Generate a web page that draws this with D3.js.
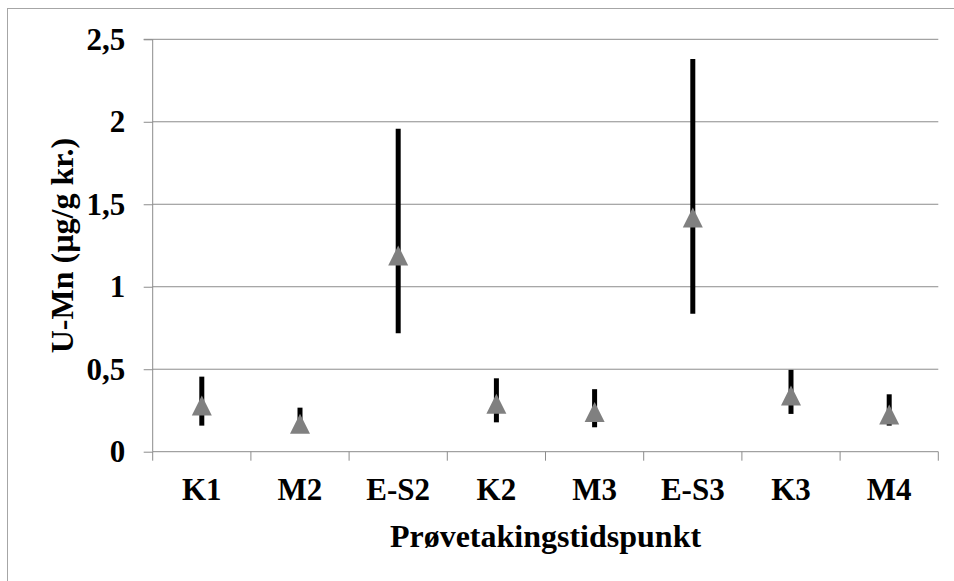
<!DOCTYPE html>
<html>
<head>
<meta charset="utf-8">
<script src="https://cdn.jsdelivr.net/npm/d3@7"></script>
<style>
  html, body { margin: 0; padding: 0; background: #fff; }
  svg { display: block; }
  text { font-family: "Liberation Serif", "Times New Roman", serif; font-weight: bold; fill: #000; }
</style>
</head>
<body>
<svg id="chart" width="954" height="581"></svg>
<script>
const categories = ["K1", "M2", "E-S2", "K2", "M3", "E-S3", "K3", "M4"];
const meanValues = [0.28, 0.17, 1.19, 0.29, 0.24, 1.42, 0.34, 0.225];
const highValues = [0.455, 0.267, 1.958, 0.445, 0.379, 2.381, 0.496, 0.348];
const lowValues  = [0.158, 0.13, 0.718, 0.178, 0.148, 0.837, 0.229, 0.158];
const yTicks = [0, 0.5, 1, 1.5, 2, 2.5];
const yTitle = "U-Mn (µg/g kr.)";
const xTitle = "Prøvetakingstidspunkt";

const data = categories.map((c, i) => ({ cat: c, mean: meanValues[i], hi: highValues[i], lo: lowValues[i] }));

const svg = d3.select("#chart");
const pLeft = 152.7, pRight = 938.3, pTop = 39.3, pBottom = 451.7;

// outer chart border (cropped at right/bottom)
svg.append("rect").attr("x", 7.5).attr("y", 8.5).attr("width", 960).attr("height", 600)
  .attr("fill", "#fff").attr("stroke", "#a6a6a6").attr("stroke-width", 1);

const x = d3.scaleBand().domain(categories).range([pLeft, pRight]).padding(0);
const y = d3.scaleLinear().domain([0, 2.5]).range([pBottom, pTop]);

// gridlines
svg.append("g").selectAll("line").data(yTicks.filter(t => t > 0)).join("line")
  .attr("x1", pLeft).attr("x2", pRight)
  .attr("y1", d => y(d)).attr("y2", d => y(d))
  .attr("stroke", "#8c8c8c").attr("stroke-width", 1);

// y axis
const yAxis = d3.axisLeft(y).tickValues(yTicks).tickSize(9).tickPadding(18)
  .tickFormat(d => d3.format("")(d).replace(".", ","));
const gy = svg.append("g").attr("transform", `translate(${pLeft},0)`).call(yAxis);
gy.select(".domain").attr("stroke", "#8c8c8c").attr("d", `M-9,${pTop}H0V${pBottom}`);
gy.selectAll(".tick line").attr("stroke", "#8c8c8c");
gy.selectAll(".tick text").attr("font-size", 31).attr("font-family", "Liberation Serif, Times New Roman, serif")
  .attr("font-weight", "bold").attr("fill", "#000").attr("x", -27.5).attr("dy", "0.32em");

// x axis
const gx = svg.append("g").attr("transform", `translate(0,${pBottom})`);
gx.append("line").attr("x1", pLeft).attr("x2", pRight).attr("y1", 0).attr("y2", 0).attr("stroke", "#8c8c8c");
const bounds = categories.map(c => x(c)).concat([pRight]);
gx.selectAll("line.tk").data(bounds).join("line").attr("class", "tk")
  .attr("x1", d => d).attr("x2", d => d).attr("y1", 0).attr("y2", 9).attr("stroke", "#8c8c8c");
gx.selectAll("text").data(categories).join("text")
  .attr("x", d => x(d) + x.bandwidth() / 2).attr("y", 500 - pBottom)
  .attr("text-anchor", "middle").attr("font-size", 31).text(d => d);

// error bars
svg.append("g").selectAll("line").data(data).join("line")
  .attr("x1", d => x(d.cat) + x.bandwidth() / 2).attr("x2", d => x(d.cat) + x.bandwidth() / 2)
  .attr("y1", d => y(d.hi)).attr("y2", d => y(d.lo))
  .attr("stroke", "#000").attr("stroke-width", 5);

// triangle markers
const tri = d3.line()([[0, -10], [10, 10], [-10, 10]]) + "Z";
svg.append("g").selectAll("path").data(data).join("path")
  .attr("d", tri)
  .attr("transform", d => `translate(${x(d.cat) + x.bandwidth() / 2},${y(d.mean)})`)
  .attr("fill", "#808080");

// axis titles
svg.append("text").attr("x", (pLeft + pRight) / 2).attr("y", 547)
  .attr("text-anchor", "middle").attr("font-size", 32).text(xTitle);
svg.append("text").attr("transform", `translate(73,${(pTop + pBottom) / 2}) rotate(-90)`)
  .attr("text-anchor", "middle").attr("font-size", 32).text(yTitle);
</script>
</body>
</html>
